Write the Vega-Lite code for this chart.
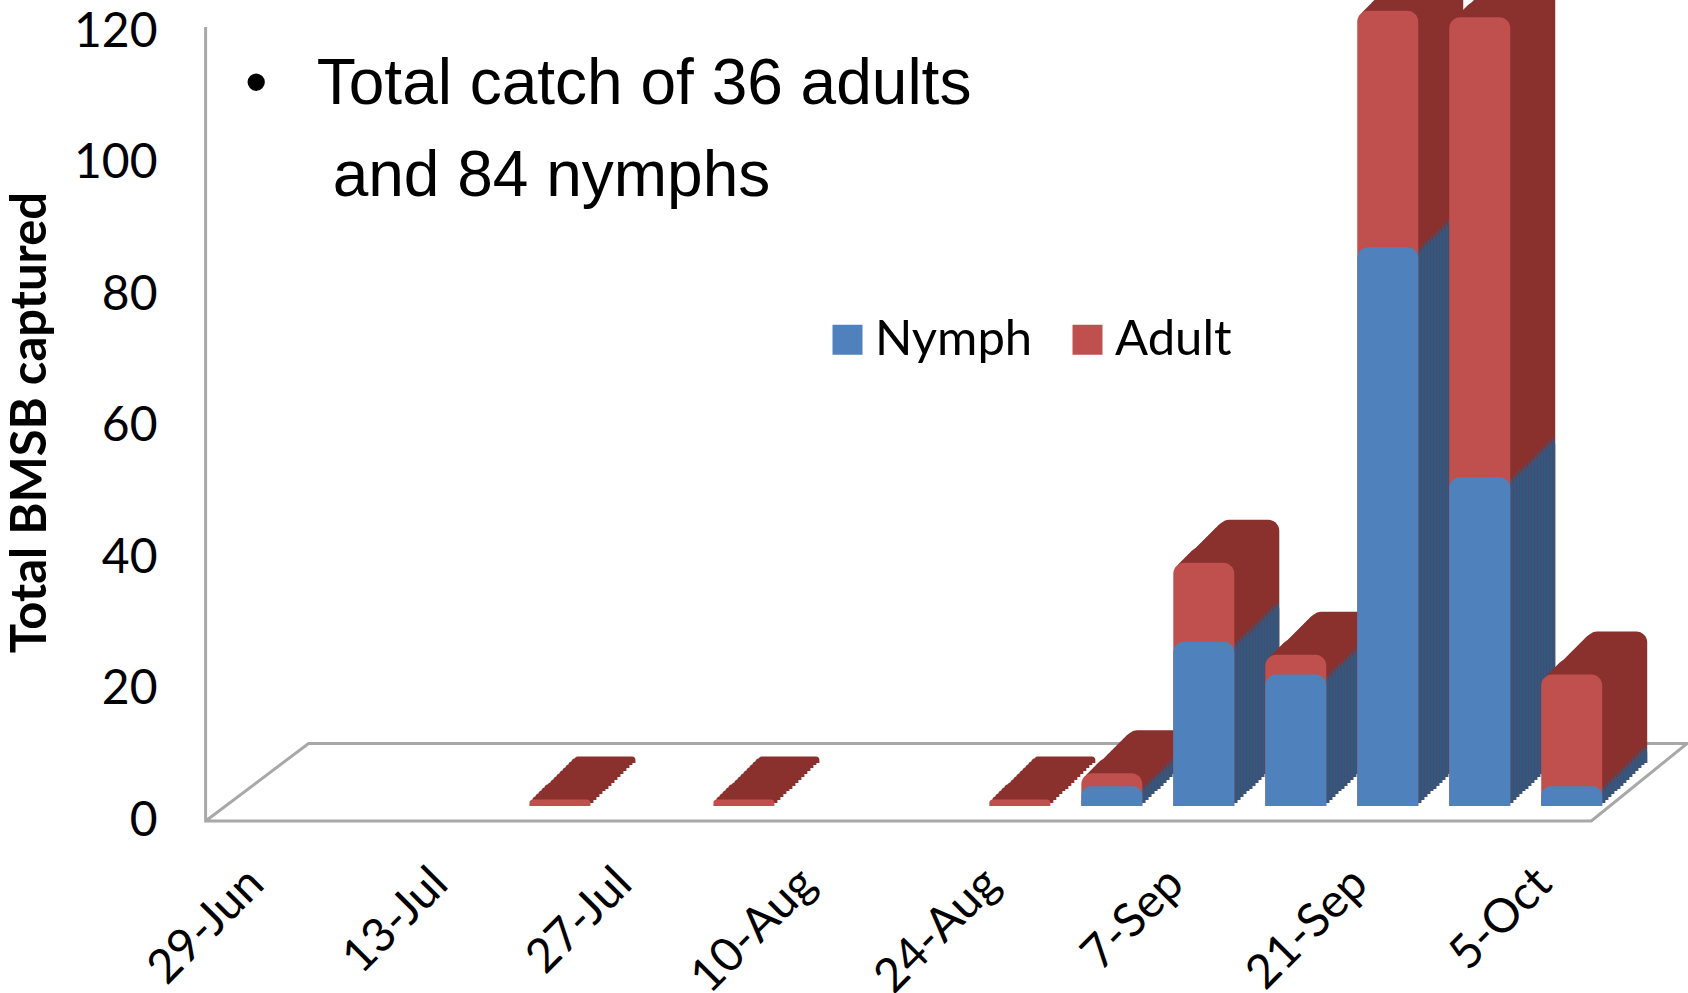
{
"$schema":"https://vega.github.io/schema/vega-lite/v6.json",
"autosize":"none",
"padding":{"left":205,"top":0,"right":0,"bottom":172},
"width":1483,"height":821,
"background":"white",
"config":{"view":{"stroke":null}},
"datasets":{
"catch":[
{"date":"2012-07-20","stage":"Adult","count":1},
{"date":"2012-08-03","stage":"Adult","count":1},
{"date":"2012-08-24","stage":"Adult","count":1},
{"date":"2012-08-31","stage":"Adult","count":2},
{"date":"2012-09-07","stage":"Adult","count":12},
{"date":"2012-09-14","stage":"Adult","count":3},
{"date":"2012-09-21","stage":"Adult","count":36},
{"date":"2012-09-28","stage":"Adult","count":70},
{"date":"2012-10-05","stage":"Adult","count":17},
{"date":"2012-08-31","stage":"Nymph","count":3},
{"date":"2012-09-07","stage":"Nymph","count":25},
{"date":"2012-09-14","stage":"Nymph","count":20},
{"date":"2012-09-21","stage":"Nymph","count":85},
{"date":"2012-09-28","stage":"Nymph","count":50},
{"date":"2012-10-05","stage":"Nymph","count":3}
],
"frame":[
{"seq":1,"date":"2012-06-25T04:00:00Z","value":120.8},
{"seq":2,"date":"2012-06-25T04:00:00Z","value":0},
{"seq":3,"date":"2012-10-08T15:00:00Z","value":0},
{"seq":4,"date":"2012-10-15T22:00:00Z","value":11.8},
{"seq":5,"date":"2012-07-03T00:00:00Z","value":11.8},
{"seq":6,"date":"2012-06-25T04:00:00Z","value":0}
],
"notes":[
{"text":"•","date":"2012-06-28T04:00:00Z","value":112},
{"text":"Total catch of 36 adults","date":"2012-07-03T15:00:00Z","value":112},
{"text":"and 84 nymphs","date":"2012-07-04T20:00:00Z","value":98}
]
},
"data":{"name":"catch"},
"transform":[{"stack":"count","groupby":["date"],"sort":[{"field":"stage","order":"descending"}],"as":["low","value"]}],
"encoding":{
  "x":{"field":"date","type":"temporal","scale":{"type":"utc","domain":["2012-06-25T12:00:00Z","2012-10-15T14:24:00Z"]},
   "axis":{"values":["2012-06-29","2012-07-13","2012-07-27","2012-08-10","2012-08-24","2012-09-07","2012-09-21","2012-10-05"],"format":"%-d-%b","title":null,"grid":false,"domain":false,"ticks":false,"labelAngle":-45,"labelAlign":"right","labelBaseline":"middle","labelPadding":55,"labelFont":"Lato","labelFontSize":47,"labelColor":"#000000","labelOverlap":false,"labelFlush":false,"labelBound":false}},
  "y":{"field":"value","type":"quantitative","scale":{"domain":[0,124.9],"nice":false},
   "axis":{"values":[0,20,40,60,80,100,120],"title":"Total BMSB captured","titleFont":"Lato","titleFontSize":49,"titleFontWeight":"bold","titleColor":"#000000","titleX":-150,"titleY":422,"grid":false,"domain":false,"ticks":false,"labelPadding":48,"labelFont":"Lato","labelFontSize":48,"labelColor":"#000000","labelBound":false}}
},
"layer":[
{"data":{"name":"frame"},
 "transform":[],
 "mark":{"type":"line","color":"#a8a8a8","strokeWidth":3,"clip":false},
 "encoding":{"order":{"field":"seq","type":"quantitative"}}},
{"mark":{"type":"bar","width":61,"xOffset":73,"yOffset":-58,"y2Offset":-58,"cornerRadiusTopLeft":11,"cornerRadiusTopRight":11},"encoding":{"y2":{"datum":0},"color":{"condition":{"test":"datum.stage==='Adult'","value":"#8a312e"},"value":"#33577f"}}},
{"mark":{"type":"bar","width":61,"xOffset":70,"yOffset":-56,"y2Offset":-56,"cornerRadiusTopLeft":11,"cornerRadiusTopRight":11},"encoding":{"y2":{"datum":0},"color":{"condition":{"test":"datum.stage==='Adult'","value":"#8a312e"},"value":"#33577f"}}},
{"mark":{"type":"bar","width":61,"xOffset":67,"yOffset":-53,"y2Offset":-53,"cornerRadiusTopLeft":11,"cornerRadiusTopRight":11},"encoding":{"y2":{"datum":0},"color":{"condition":{"test":"datum.stage==='Adult'","value":"#8a312e"},"value":"#33577f"}}},
{"mark":{"type":"bar","width":61,"xOffset":64,"yOffset":-50,"y2Offset":-50,"cornerRadiusTopLeft":11,"cornerRadiusTopRight":11},"encoding":{"y2":{"datum":0},"color":{"condition":{"test":"datum.stage==='Adult'","value":"#8a312e"},"value":"#33577f"}}},
{"mark":{"type":"bar","width":61,"xOffset":61,"yOffset":-47,"y2Offset":-47,"cornerRadiusTopLeft":11,"cornerRadiusTopRight":11},"encoding":{"y2":{"datum":0},"color":{"condition":{"test":"datum.stage==='Adult'","value":"#8a312e"},"value":"#33577f"}}},
{"mark":{"type":"bar","width":61,"xOffset":58,"yOffset":-44,"y2Offset":-44,"cornerRadiusTopLeft":11,"cornerRadiusTopRight":11},"encoding":{"y2":{"datum":0},"color":{"condition":{"test":"datum.stage==='Adult'","value":"#8a312e"},"value":"#33577f"}}},
{"mark":{"type":"bar","width":61,"xOffset":55,"yOffset":-41,"y2Offset":-41,"cornerRadiusTopLeft":11,"cornerRadiusTopRight":11},"encoding":{"y2":{"datum":0},"color":{"condition":{"test":"datum.stage==='Adult'","value":"#8a312e"},"value":"#33577f"}}},
{"mark":{"type":"bar","width":61,"xOffset":52,"yOffset":-38,"y2Offset":-38,"cornerRadiusTopLeft":11,"cornerRadiusTopRight":11},"encoding":{"y2":{"datum":0},"color":{"condition":{"test":"datum.stage==='Adult'","value":"#8a312e"},"value":"#33577f"}}},
{"mark":{"type":"bar","width":61,"xOffset":49,"yOffset":-35,"y2Offset":-35,"cornerRadiusTopLeft":11,"cornerRadiusTopRight":11},"encoding":{"y2":{"datum":0},"color":{"condition":{"test":"datum.stage==='Adult'","value":"#8a312e"},"value":"#33577f"}}},
{"mark":{"type":"bar","width":61,"xOffset":46,"yOffset":-32,"y2Offset":-32,"cornerRadiusTopLeft":11,"cornerRadiusTopRight":11},"encoding":{"y2":{"datum":0},"color":{"condition":{"test":"datum.stage==='Adult'","value":"#8a312e"},"value":"#33577f"}}},
{"mark":{"type":"bar","width":61,"xOffset":43,"yOffset":-30,"y2Offset":-30,"cornerRadiusTopLeft":11,"cornerRadiusTopRight":11},"encoding":{"y2":{"datum":0},"color":{"condition":{"test":"datum.stage==='Adult'","value":"#8a312e"},"value":"#33577f"}}},
{"mark":{"type":"bar","width":61,"xOffset":40,"yOffset":-27,"y2Offset":-27,"cornerRadiusTopLeft":11,"cornerRadiusTopRight":11},"encoding":{"y2":{"datum":0},"color":{"condition":{"test":"datum.stage==='Adult'","value":"#8a312e"},"value":"#33577f"}}},
{"mark":{"type":"bar","width":61,"xOffset":37,"yOffset":-24,"y2Offset":-24,"cornerRadiusTopLeft":11,"cornerRadiusTopRight":11},"encoding":{"y2":{"datum":0},"color":{"condition":{"test":"datum.stage==='Adult'","value":"#8a312e"},"value":"#33577f"}}},
{"mark":{"type":"bar","width":61,"xOffset":34,"yOffset":-21,"y2Offset":-21,"cornerRadiusTopLeft":11,"cornerRadiusTopRight":11},"encoding":{"y2":{"datum":0},"color":{"condition":{"test":"datum.stage==='Adult'","value":"#8a312e"},"value":"#33577f"}}},
{"mark":{"type":"bar","width":61,"xOffset":31,"yOffset":-18,"y2Offset":-18,"cornerRadiusTopLeft":11,"cornerRadiusTopRight":11},"encoding":{"y2":{"datum":0},"color":{"condition":{"test":"datum.stage==='Adult'","value":"#8a312e"},"value":"#33577f"}}},
{"mark":{"type":"bar","width":61,"xOffset":28,"yOffset":-15,"y2Offset":-15,"cornerRadiusTopLeft":11,"cornerRadiusTopRight":11},
 "encoding":{"y2":{"datum":0},"color":{"field":"stage","type":"nominal","scale":{"domain":["Nymph","Adult"],"range":["#4f81bd","#c0504d"]},
    "legend":{"title":null,"orient":"none","direction":"horizontal","legendX":618,"legendY":315,"symbolType":"square","symbolSize":900,"symbolStrokeWidth":0,"labelFont":"Lato","labelFontSize":49,"labelColor":"#000000","columnPadding":30,"labelOffset":3}}}},
{"data":{"name":"notes"},
 "transform":[],
 "mark":{"type":"text","align":"left","baseline":"middle","font":"Liberation Sans","fontSize":64,"color":"#000000"},
 "encoding":{"text":{"field":"text","type":"nominal"}}}
]
}
